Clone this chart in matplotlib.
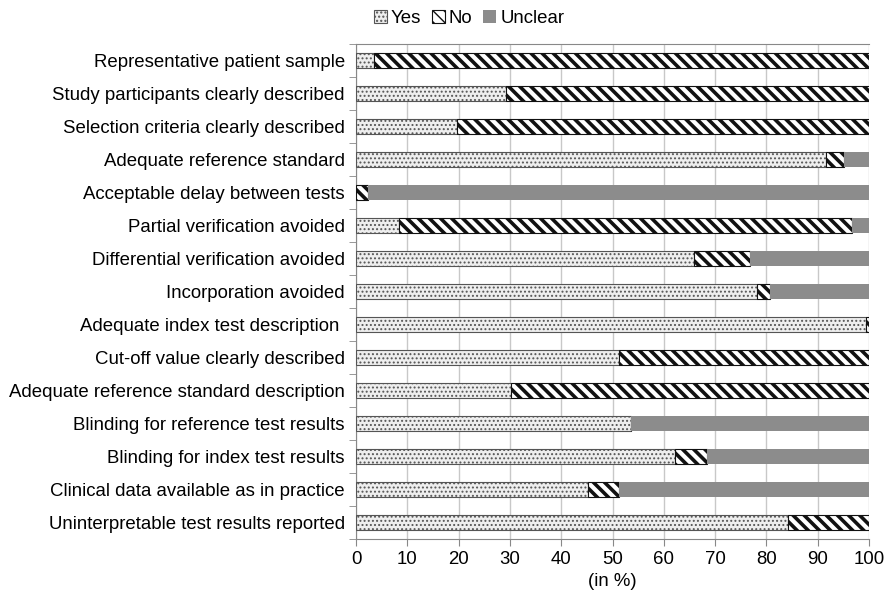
import matplotlib
matplotlib.use("Agg")
import matplotlib.pyplot as plt
import numpy as np

plt.rcParams["font.family"] = ["Liberation Sans", "DejaVu Sans"]

items = [
    "Representative patient sample",
    "Study participants clearly described",
    "Selection criteria clearly described",
    "Adequate reference standard",
    "Acceptable delay between tests",
    "Partial verification avoided",
    "Differential verification avoided",
    "Incorporation avoided",
    "Adequate index test description ",
    "Cut-off value clearly described",
    "Adequate reference standard description",
    "Blinding for reference test results",
    "Blinding for index test results",
    "Clinical data available as in practice",
    "Uninterpretable test results reported",
]
yes = [3.5, 29.2, 19.6, 91.7, 0.0, 8.4, 65.9, 78.2, 99.5, 51.3, 30.2, 53.7, 62.2, 45.2, 84.3]
no = [96.5, 70.8, 80.4, 3.5, 2.3, 88.2, 10.9, 2.5, 0.5, 48.7, 69.8, 0.0, 6.3, 6.1, 15.7]
unclear = [round(100 - a - b, 1) for a, b in zip(yes, no)]

fig = plt.figure(figsize=(8.87, 5.94), dpi=100)
ax = fig.add_axes([0.4014, 0.0926, 0.5783, 0.8333])

y = np.arange(len(items))
h = 0.45
left_no = np.array(yes)
left_unc = left_no + np.array(no)

with plt.rc_context({"hatch.linewidth": 0.9}):
    ax.barh(y, yes, height=h, color="#eeeeee", edgecolor="#555555",
            hatch="....", linewidth=0.8, label="Yes", zorder=3)
with plt.rc_context({"hatch.linewidth": 2.6}):
    ax.barh(y, no, left=left_no, height=h, color="white", edgecolor="#111111",
            hatch="\\\\\\", linewidth=0.8, label="No", zorder=3)
ax.barh(y, unclear, left=left_unc, height=h, color="#8c8c8c",
        linewidth=0, label="Unclear", zorder=3)

fs = 13.4
ax.set_xlim(0, 100)
ax.set_ylim(len(items) - 0.5, -0.5)
ax.set_xticks(range(0, 101, 10))
ax.set_yticks(y)
ax.set_yticklabels(items)
ax.set_yticks(np.arange(-0.5, len(items), 1), minor=True)
ax.tick_params(axis="y", which="major", length=0, labelsize=fs, pad=8)
ax.tick_params(axis="y", which="minor", length=5, color="#888888")
ax.tick_params(axis="x", length=5, color="#888888", labelsize=fs)
ax.grid(axis="x", color="#c8c8c8", linewidth=1, zorder=0)
for s in ["left", "bottom", "top"]:
    ax.spines[s].set_color("#888888")
ax.spines["right"].set_visible(False)
ax.set_xlabel("(in %)", fontsize=fs)

ax.legend(loc="center", bbox_to_anchor=(0.22, 1.052), ncol=3, frameon=False,
          fontsize=fs, handlelength=0.7, handleheight=0.7, handletextpad=0.2,
          columnspacing=0.6, borderaxespad=0)

fig.savefig("out.png", dpi=100)
